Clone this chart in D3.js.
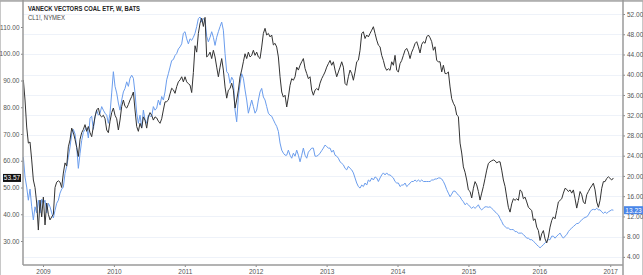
<!DOCTYPE html>
<html>
<head>
<meta charset="utf-8">
<script src="https://cdn.jsdelivr.net/npm/d3@7"></script>
<style>
  body { margin: 0; background: #fff; }
  svg { display: block; font-family: "Liberation Sans", Arial, sans-serif; }
  .axis text { fill: #555; font-size: 6.5px; }
  .axis line { stroke: #888; }
</style>
</head>
<body>
<svg id="chart" width="643" height="275"></svg>
<script>
var title = "VANECK VECTORS COAL ETF, W, BATS";
var subtitle = "CL1!, NYMEX";

var years = [2009, 2010, 2011, 2012, 2013, 2014, 2015, 2016, 2017];
var leftTicks = [30, 40, 50, 60, 70, 80, 90, 100, 110];
var rightTicks = [4, 8, 12, 16, 20, 24, 28, 32, 36, 40, 44, 48, 52];

// readings, one every ~8.6 days starting late Sep 2008
var firstSample = 2008.723;
var sampleStep = 0.023507;

// CL1! (left axis)
var crude = [
  90.2, 82.7, 72.6, 66.6, 67, 60.3, 52.8, 50, 44.2, 34.1,
  45.3, 39, 46.4, 36, 44.2, 40, 37.9, 39, 40, 50,
  52, 52.5, 52, 50, 55.4, 59.2, 58, 65.2, 67.8, 72.2,
  70.5, 68, 65, 61.6, 68, 70.5, 71.7, 73.5, 71, 72.8,
  70.5, 69, 72.8, 76.4, 79, 79.7, 77, 76.4, 77, 75.7,
  71.5, 70.5, 74.8, 78, 79.7, 77, 75.7, 71.5, 75.2, 80.3,
  82.7, 80.3, 79.7, 81, 82.7, 84, 85.7, 79, 72.8, 71,
  74, 72.2, 76.4, 75.2, 72.2, 76.4, 78, 77, 75.2, 76.4,
  76, 74.8, 74, 75.7, 79, 82, 82.1, 82.7, 85, 87.1,
  86.5, 85.2, 87.7, 89.5, 90.2, 91.4, 89.5, 91.4, 89.5, 88.8,
  88.3, 85.5, 93, 103, 100.6, 107.6, 111.4, 113.3, 110.2, 113.6,
  98.8, 99.4, 100.6, 98.2, 101.3, 98.8, 95, 91.4, 95, 98.2,
  93.9, 87.6, 83.4, 86.4, 87, 89, 86.4, 79.7, 82.7, 86.4,
  91.4, 93.9, 97, 100, 98.2, 100.6, 98.8, 99.4, 101.3, 99.4,
  100.6, 98.8, 98.2, 102.5, 107.6, 109.5, 107, 107.6, 106.3, 107,
  103.3, 103.9, 102.5, 98.8, 91.4, 85.7, 83.8, 84.5, 80.1, 83.8,
  88.2, 90.7, 90.1, 91.4, 95, 93.9, 95.7, 97, 98.2, 94.5,
  92.6, 90.7, 91.4, 86.4, 84.5, 86.4, 87, 86.4, 89, 90.7,
  91.9, 93.2, 95, 96.3, 97.5, 95.7, 97, 93.9, 91.4, 93.2,
  95, 97, 95, 88.9, 88.2, 91.4, 93.9, 92.6, 90.1, 93.2,
  97, 97.6, 101.3, 107.6, 108.2, 105.7, 107, 106.3, 107.6, 108.8,
  110.1, 107.6, 105.1, 103.2, 102.6, 99.4, 97.5, 95, 93.8, 94.4,
  93.8, 97, 95.7, 99.4, 93.8, 93.2, 96.3, 97.5, 99.4, 101.3,
  102, 100.6, 98.2, 100.6, 102, 103.8, 104.5, 102.6, 100.3, 103.5,
  104.5, 103.9, 106.3, 107, 106, 104.5, 101.3, 102.6, 97.5, 97,
  97, 93.2, 95.7, 92.6, 92.6, 93.2, 87.6, 83.2, 81.5, 80.3,
  77.1, 76.5, 66.6, 62.9, 57.7, 55.7, 52.8, 49.1, 48.5, 46.1,
  49.7, 52.2, 51, 48.5, 45.3, 47.9, 50.4, 53.4, 56.5, 59,
  59.6, 60, 60.3, 60, 59.2, 59.6, 59.6, 56.5, 52.8, 50.4,
  46.4, 42.6, 40.8, 43.9, 45.8, 45.2, 45.8, 45.2, 49.1, 48.5,
  45.8, 46.4, 44.6, 42.6, 42, 41.4, 37.7, 38.3, 35.2, 33.9,
  30.2, 32.7, 33.9, 30.8, 29.3, 31.5, 35.2, 37.7, 39, 38.3,
  41.4, 44.6, 45.2, 45.8, 47.9, 49.7, 49.3, 48.5, 49.1, 47.9,
  49.1, 45.8, 42.3, 45.2, 48.5, 47.3, 44.6, 43.9, 47.3, 48.5,
  49.7, 50.6, 51.6, 49.1, 44.6, 42.6, 45.2, 49.7, 52.2, 52.2,
  53.4, 54, 53.4, 52.8, 53.57
];

// VanEck Vectors Coal ETF (right axis)
var coal = [
  23.7, 19.8, 17.8, 15.2, 17.4, 13.9, 11.3, 13.9, 12.7, 15.2,
  12.7, 15.4, 14.6, 15.2, 12.7, 14.6, 13.9, 12.7, 11.7, 13.2,
  14.6, 15.2, 16.6, 17.4, 17.8, 20.5, 21.9, 23.7, 25.7, 28.3,
  29.2, 28.3, 25.7, 21.5, 24.4, 27, 28.6, 29.2, 29.5, 27.5,
  31.4, 31.8, 29.2, 31.8, 33, 32, 32.4, 33.7, 33, 32.4,
  32, 30.4, 32.4, 36.4, 40.6, 37.7, 36.4, 34.4, 33, 35,
  36.6, 37.3, 38.6, 37.7, 39.3, 39.9, 39.3, 36.4, 32.4, 30.4,
  32, 29.5, 33, 31.1, 30.4, 32, 31.8, 31.8, 33.7, 33,
  33.4, 35, 34, 35.7, 35, 36.6, 39, 40.2, 41.5, 42.8,
  43, 43.8, 44.2, 45.1, 45.5, 46.1, 48.2, 48.5, 47.1, 46.1,
  47.1, 46.8, 47.4, 48.2, 49.5, 51.1, 51.4, 50.4, 51.1, 50.8,
  47.6, 46.5, 47.4, 48.5, 47.4, 45.8, 47.4, 48.5, 49.5, 50.4,
  48.8, 44.2, 40.6, 40.2, 38.3, 39.5, 38.9, 33, 30.7, 35.6,
  38.2, 40.2, 39.3, 37, 35, 32.4, 33.7, 35, 33.7, 32.4,
  33, 35, 36.6, 37.3, 35.6, 35, 33.7, 32.4, 32, 31.8,
  31.1, 30.4, 29.8, 28.8, 26.5, 25.1, 24.5, 24.1, 24.1, 25.1,
  24.1, 23.5, 24.5, 23.9, 25.1, 24.1, 22.8, 24.1, 25.5, 24.1,
  23.5, 24.7, 25.1, 25.5, 25.5, 23.9, 23.9, 24.1, 24.5, 25,
  25.5, 26.1, 25.8, 25.5, 25.5, 24.7, 25.1, 24.1, 23.9, 23.5,
  22.8, 22.5, 22.2, 21.5, 21.2, 21.9, 21.5, 21.2, 20.6, 19.6,
  18.6, 17.9, 17.6, 18.2, 17.9, 18.6, 18.2, 19.2, 18.9, 19.6,
  19.2, 19.8, 19.6, 18.9, 19.6, 20.2, 20.6, 20.2, 20.6, 20.2,
  20.2, 19.9, 19.6, 18.9, 18.6, 18.6, 17.9, 18.2, 18.2, 18.6,
  17.9, 18.2, 18.6, 18.9, 18.9, 19.2, 18.9, 19.2, 18.9, 19.2,
  18.9, 18.9, 18.9, 18.9, 18.9, 19.2, 19.2, 19.4, 19.4, 19.6,
  19.6, 19.4, 18.9, 18.2, 17.3, 16.6, 15.9, 16.4, 17, 17,
  16.6, 16.2, 15.9, 15.3, 14.9, 14.3, 14.6, 14.3, 13.9, 13.6,
  13.9, 13.6, 13.9, 14.3, 13.6, 13.3, 13.6, 13.9, 13.9, 13.8,
  13.9, 13.6, 13.3, 12.9, 12.6, 12.3, 11.6, 11, 10.3, 10,
  9.7, 9.7, 9.4, 9.4, 9.4, 9, 9, 8.7, 8.7, 8.7,
  8.4, 8.1, 7.7, 7.7, 7.4, 7.4, 7.1, 6.8, 6.4, 6.1,
  5.8, 6.1, 6.4, 6.8, 7.1, 7.4, 7.4, 8.1, 8.1, 7.7,
  8.1, 8.4, 8.7, 8.1, 7.7, 8.1, 8.4, 9, 9.4, 9.7,
  10, 10.3, 10.6, 10.6, 11, 11.3, 11.6, 11.8, 11.9, 12.3,
  12.9, 13.3, 13.4, 13.3, 13.6, 13.3, 13.3, 12.9, 12.6, 12.9,
  12.6, 12.9, 13.1, 13.3, 13.23
];

var lastCrude = 53.57, lastCoal = 13.23;

var svg = d3.select("#chart"),
    width = +svg.attr("width"),
    height = +svg.attr("height");

var plotLeft = 23, plotRight = 623, plotTop = 1, plotBottom = 265;

var x = d3.scaleLinear().domain([2008.718, 2017.18]).range([plotLeft, plotRight]);
var yLeft = d3.scaleLinear().domain([21.03, 119.72]).range([plotBottom, plotTop]);
var yRight = d3.scaleLinear().domain([2.4, 54.57]).range([plotBottom, plotTop]);

function sampleTime(i) { return firstSample + i * sampleStep; }

// outer frame
svg.append("rect")
    .attr("x", 0.5).attr("y", 0.5)
    .attr("width", width - 1).attr("height", height + 5)
    .attr("fill", "none").attr("stroke", "#c8c8c8");

// horizontal grid at right-axis ticks
svg.append("g")
    .selectAll("line")
    .data(rightTicks)
    .enter().append("line")
    .attr("x1", plotLeft).attr("x2", plotRight)
    .attr("y1", function (d) { return Math.round(yRight(d)) + 0.5; })
    .attr("y2", function (d) { return Math.round(yRight(d)) + 0.5; })
    .attr("stroke", "#eef2f9");

// top border of the plot
svg.append("line")
    .attr("x1", 0).attr("x2", width)
    .attr("y1", 1).attr("y2", 1)
    .attr("stroke", "#a8a8a8").attr("stroke-width", 1.5);

var line = function (scale) {
    return d3.line()
        .x(function (d, i) { return x(sampleTime(i)); })
        .y(function (d) { return scale(d); });
};

svg.append("path")
    .datum(coal)
    .attr("fill", "none")
    .attr("stroke", "#6b9ded")
    .attr("stroke-width", 1)
    .attr("d", line(yRight));

svg.append("path")
    .datum(crude)
    .attr("fill", "none")
    .attr("stroke", "#333")
    .attr("stroke-width", 1)
    .attr("d", line(yLeft));

// axes
svg.append("g")
    .attr("class", "axis")
    .attr("transform", "translate(" + plotLeft + ",0)")
    .call(d3.axisLeft(yLeft).tickValues(leftTicks).tickSize(2).tickPadding(1.5)
        .tickFormat(d3.format(".2f")));

svg.append("g")
    .attr("class", "axis")
    .attr("transform", "translate(" + plotRight + ",0)")
    .call(d3.axisRight(yRight).tickValues(rightTicks).tickSize(2).tickPadding(2)
        .tickFormat(d3.format(".2f")));

svg.append("g")
    .attr("class", "axis")
    .attr("transform", "translate(0," + plotBottom + ")")
    .call(d3.axisBottom(x).tickValues(years).tickSize(2).tickPadding(2)
        .tickFormat(d3.format("d")));

svg.selectAll(".axis .domain").remove();

svg.append("line")
    .attr("x1", plotLeft).attr("x2", plotLeft)
    .attr("y1", 0).attr("y2", plotBottom)
    .attr("stroke", "#9a9a9a").attr("stroke-width", 1.5);
svg.append("line")
    .attr("x1", plotRight).attr("x2", plotRight)
    .attr("y1", 0).attr("y2", height)
    .attr("stroke", "#9a9a9a").attr("stroke-width", 1.5);
svg.append("line")
    .attr("x1", plotLeft).attr("x2", plotRight)
    .attr("y1", plotBottom).attr("y2", plotBottom)
    .attr("stroke", "#9a9a9a").attr("stroke-width", 1.5);

// last value tags
var tagL = svg.append("g").attr("transform", "translate(0," + yLeft(lastCrude) + ")");
tagL.append("rect")
    .attr("x", 3).attr("y", -4).attr("width", 18).attr("height", 8)
    .attr("fill", "#111");
tagL.append("text")
    .attr("x", 12).attr("y", 2.3)
    .attr("text-anchor", "middle")
    .attr("fill", "#fff").attr("font-size", "6.5px")
    .text(d3.format(".2f")(lastCrude));

var tagR = svg.append("g").attr("transform", "translate(0," + yRight(lastCoal) + ")");
tagR.append("rect")
    .attr("x", plotRight + 1).attr("y", -4).attr("width", 19).attr("height", 8)
    .attr("fill", "#4a86e8");
tagR.append("text")
    .attr("x", plotRight + 10.5).attr("y", 2.3)
    .attr("text-anchor", "middle")
    .attr("fill", "#fff").attr("font-size", "6.5px")
    .text(d3.format(".2f")(lastCoal));

// titles
svg.append("text")
    .attr("x", 28).attr("y", 11)
    .attr("font-size", "7.5px").attr("font-weight", "bold")
    .attr("fill", "#222")
    .attr("textLength", 112).attr("lengthAdjust", "spacingAndGlyphs")
    .text(title);

svg.append("text")
    .attr("x", 28).attr("y", 20)
    .attr("font-size", "7.5px")
    .attr("fill", "#444")
    .attr("textLength", 37).attr("lengthAdjust", "spacingAndGlyphs")
    .text(subtitle);
</script>
</body>
</html>
